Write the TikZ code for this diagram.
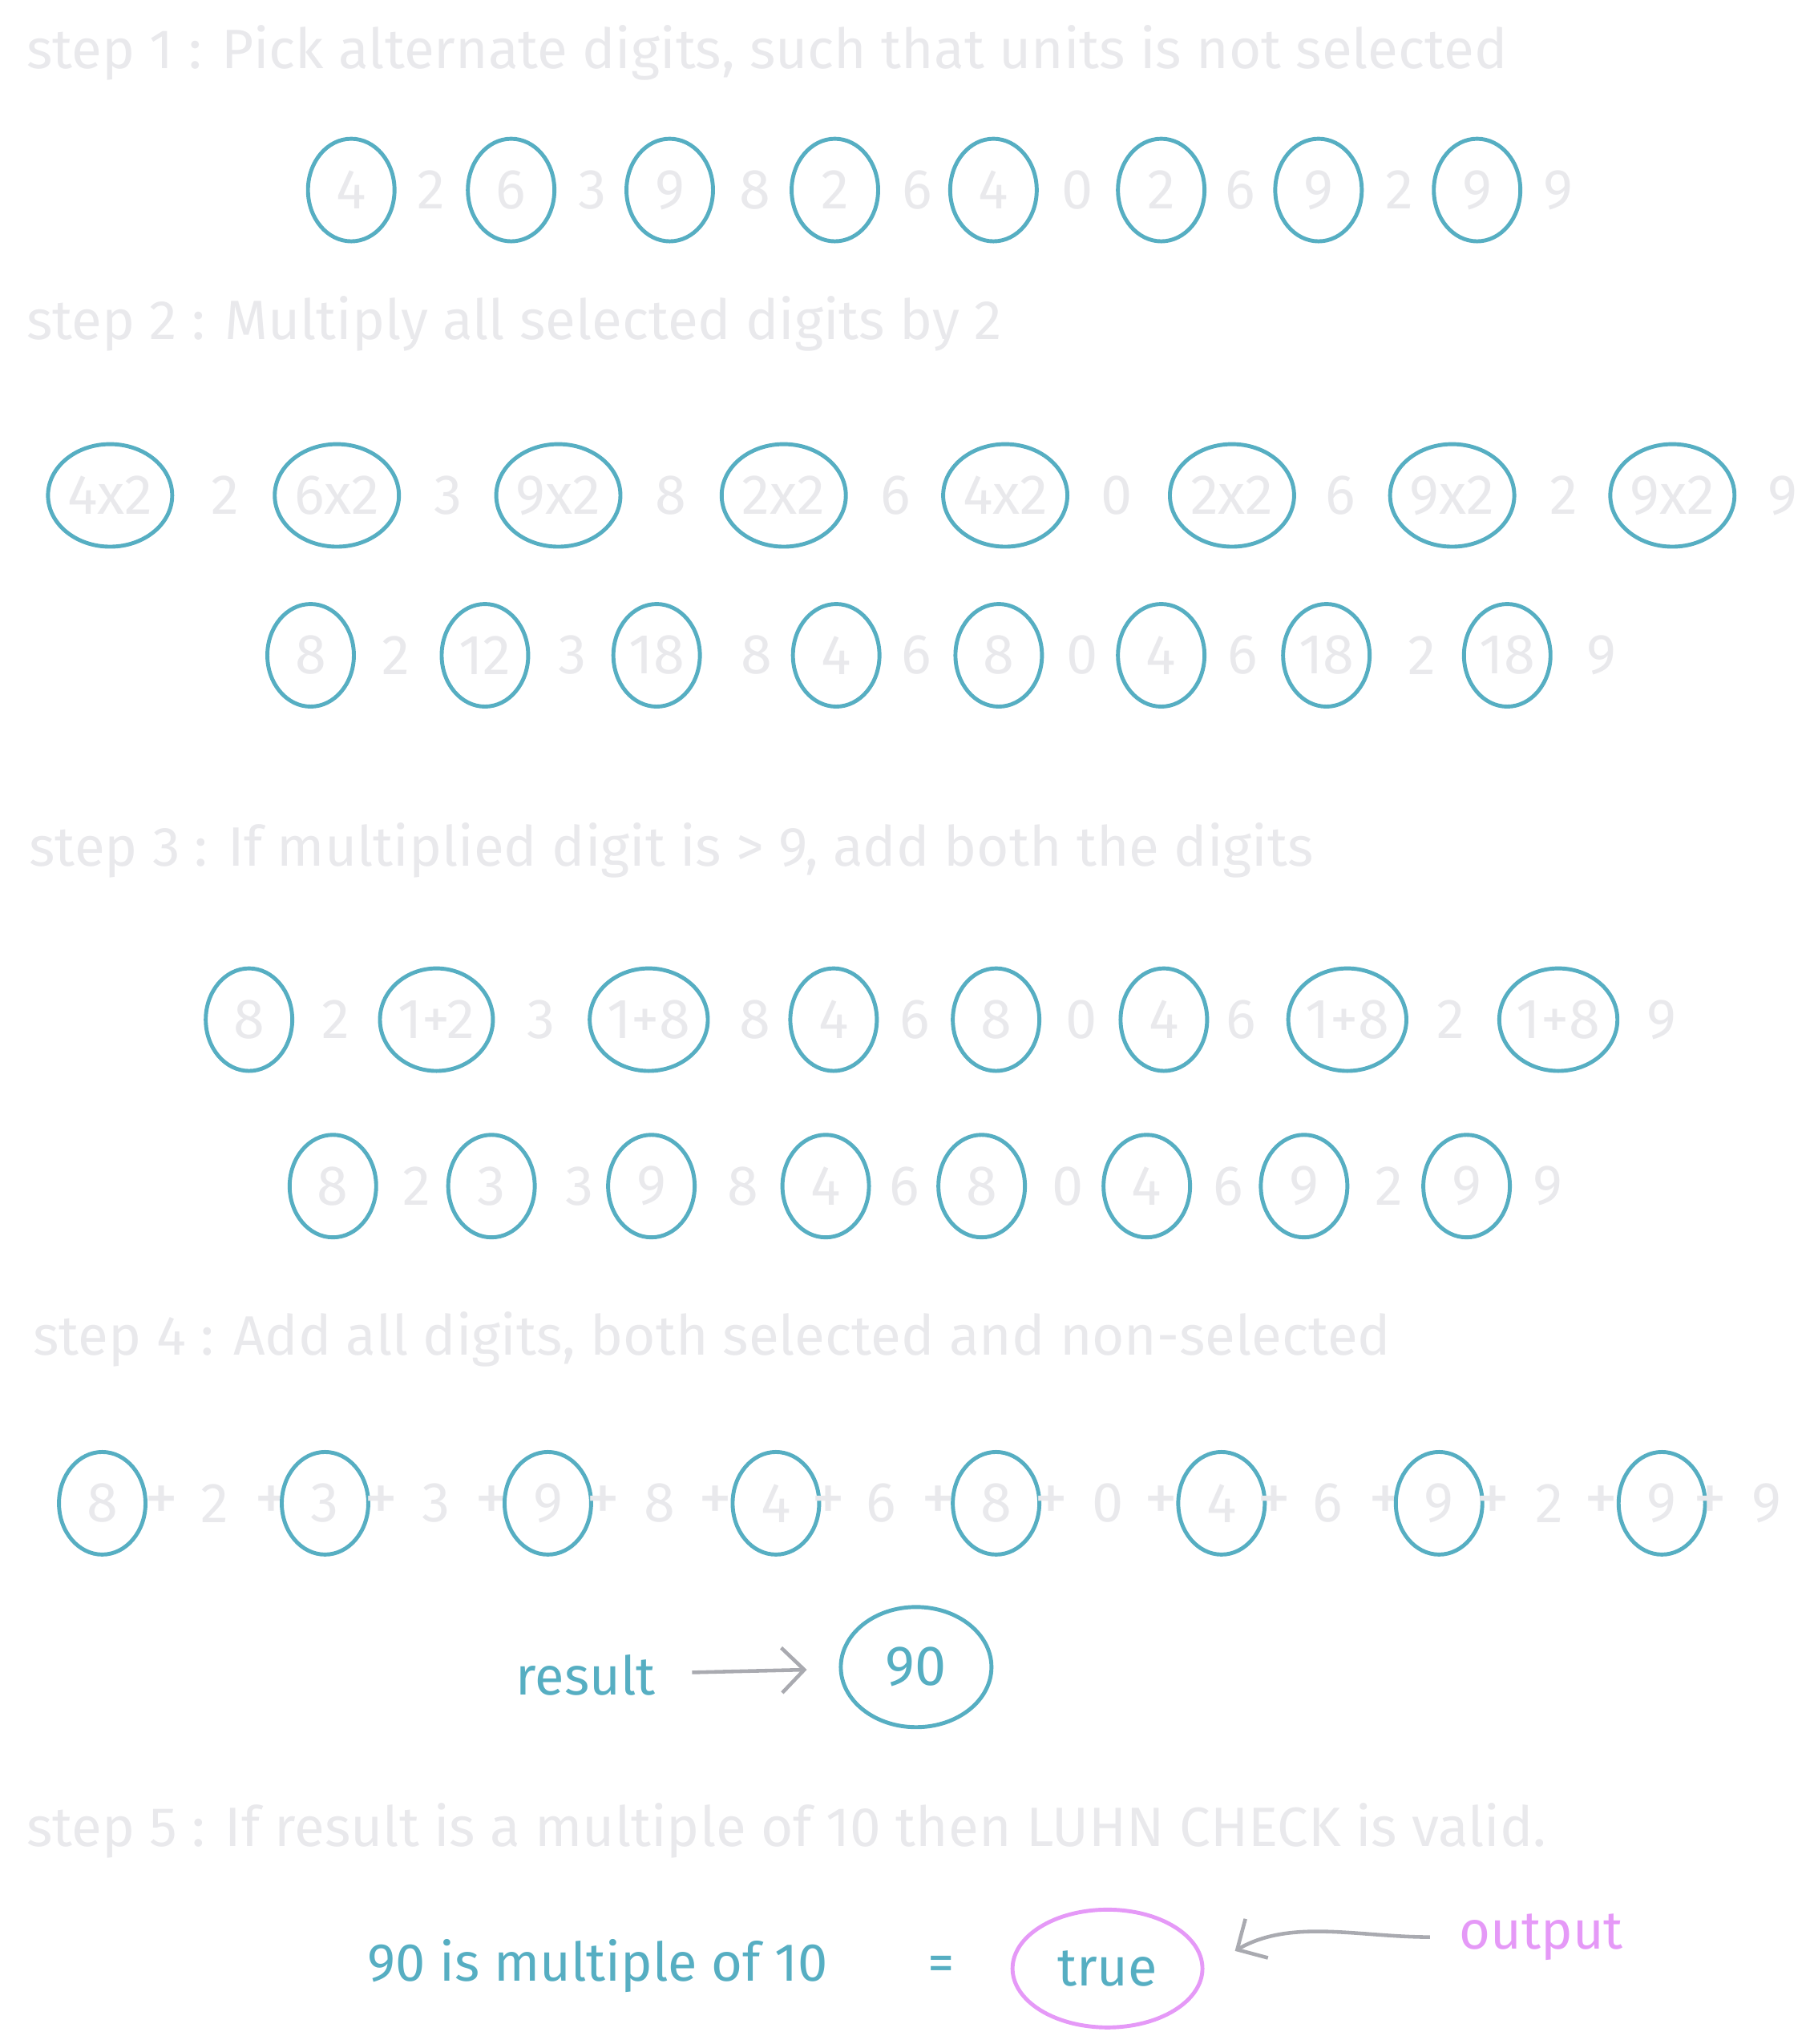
\documentclass[tikz,border=0pt]{standalone}
\usepackage{fontspec}
\setmainfont{Fira Sans}
\usetikzlibrary{shapes.geometric,arrows.meta}
\definecolor{faint}{HTML}{E9E9EC}
\definecolor{tealink}{HTML}{56AEC2}
\definecolor{pinkink}{HTML}{E599F7}
\definecolor{arrowgray}{HTML}{A9AAB0}
\tikzset{
  dig/.style={text=faint, font=\fontsize{20}{24}\selectfont, inner sep=0pt},
  plus/.style={dig, font=\fontsize{24}{26}\selectfont},
  sel/.style={dig, draw=tealink, line width=1.4pt, ellipse, minimum width=1.08cm, minimum height=1.28cm},
  selw/.style={sel, minimum width=1.55cm},
  selm/.style={sel, minimum width=1.41cm},
  steptitle/.style={text=faint, font=\fontsize{19.7}{22}\selectfont, anchor=west, inner sep=0pt},
  note/.style={text=tealink, font=\fontsize{19}{23}\selectfont, inner sep=0pt},
  arr/.style={draw=arrowgray, line width=1.3pt, -{Straight Barb[length=8pt,width=16pt]}}
}
\begin{document}
\begin{tikzpicture}[x=0.01635cm,y=-0.01635cm]
\useasboundingbox (0,0) rectangle (1384,1559.6);

\node[steptitle] (t1) at (20,40) {step 1 : Pick alternate digits, such that units is not selected};
\foreach \x/\t/\s in {268/4/sel,329/2/dig,390/6/sel,452/3/dig,511/9/sel,576/8/dig,637/2/sel,700/6/dig,
  758/4/sel,822/0/dig,886/2/sel,946/6/dig,1006/9/sel,1068/2/dig,1127/9/sel,1189/9/dig}
  \node[\s] (r1-\x) at (\x,145) {\t};

\node[steptitle] (t2) at (20,247) {step 2 : Multiply all selected digits by 2};
\foreach \x/\t/\s in {84/4x2/selw,172/2/dig,257/6x2/selw,342/3/dig,426/9x2/selw,512/8/dig,598/2x2/selw,683/6/dig,
  767/4x2/selw,852/0/dig,940/2x2/selw,1023/6/dig,1108/9x2/selw,1193/2/dig,1276/9x2/selw,1360/9/dig}
  \node[\s] (r2-\x) at (\x,378) {\t};
\foreach \x/\t/\s in {237/8/sel,302/2/dig,370/12/sel,437/3/dig,501/18/sel,577/8/dig,638/4/sel,699/6/dig,
  762/8/sel,826/0/dig,886/4/sel,948/6/dig,1012/18/sel,1085/2/dig,1150/18/sel,1222/9/dig}
  \node[\s] (r3-\x) at (\x,500) {\t};

\node[steptitle] (t3) at (22,649) {step 3 : If multiplied digit is > 9, add both the digits};
\foreach \x/\t/\s in {190/8/sel,256/2/dig,333/1+2/selm,413/3/dig,495/1+8/selm,576/8/dig,636/4/sel,698/6/dig,
  760/8/sel,825/0/dig,888/4/sel,947/6/dig,1028/1+8/selm,1107/2/dig,1189/1+8/selm,1268/9/dig}
  \node[\s] (r4-\x) at (\x,778) {\t};
\foreach \x/\t/\s in {254/8/sel,318/2/dig,375/3/sel,442/3/dig,497/9/sel,567/8/dig,630/4/sel,690/6/dig,
  749/8/sel,815/0/dig,875/4/sel,937/6/dig,995/9/sel,1060/2/dig,1119/9/sel,1181/9/dig}
  \node[\s] (r5-\x) at (\x,905) {\t};

\node[steptitle] (t4) at (25,1022) {step 4 : Add all digits, both selected and non-selected};
\foreach \x/\t/\s in {78/8/sel,123/+/plus,164/2/dig,207/+/plus,248/3/sel,291/+/plus,333/3/dig,375/+/plus,
  418/9/sel,460/+/plus,503/8/dig,546/+/plus,592/4/sel,632/+/plus,672/6/dig,716/+/plus,760/8/sel,802/+/plus,
  845/0/dig,886/+/plus,932/4/sel,972/+/plus,1013/6/dig,1057/+/plus,1098/9/sel,1139/+/plus,1182/2/dig,
  1222/+/plus,1268/9/sel,1305/+/plus,1348/9/dig}
  \node[\s] (r6-\x) at (\x,1147) {\t};

\node[note] (res) at (447,1278) {result};
\node[sel, text=tealink, minimum width=1.88cm, minimum height=1.5cm] (sum) at (699,1272) {90};
\path[arr, shorten <=0.45cm, shorten >=0.4cm] (res) -- (sum);

\node[steptitle] (t5) at (20,1397) {step 5 : If result is a multiple of 10 then LUHN CHECK is valid.};

\node[note] (claim) at (456,1500) {90 is multiple of 10};
\node[note] (eq) at (718,1502) {=};
\node[note, draw=pinkink, line width=1.4pt, ellipse, minimum width=2.37cm, minimum height=1.47cm] (verdict) at (845,1502) {true};
\node[note, text=pinkink] (outp) at (1176,1478) {output};
\path[arr, shorten <=0.36cm, shorten >=0.44cm] (outp.west) to[out=180,in=30] (verdict.east);
\end{tikzpicture}
\end{document}
